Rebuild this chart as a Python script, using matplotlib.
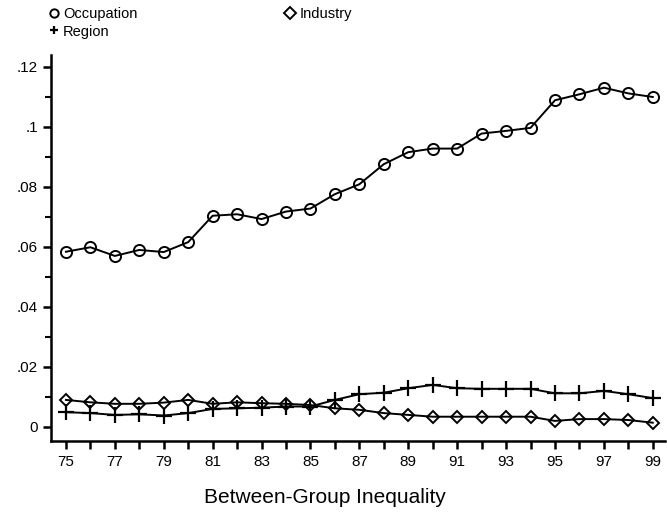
import numpy as np
import matplotlib
matplotlib.use("Agg")
import matplotlib.pyplot as plt

plt.rcParams['font.family'] = ['Liberation Sans', 'DejaVu Sans']

# Between-group inequality by grouping, 1975-1999
years = list(range(75, 100))
occupation = [.0584, .0599, .0570, .0590, .0583, .0616, .0704, .0709, .0693, .0718,
              .0728, .0776, .0809, .0876, .0916, .0928, .0928, .0978, .0987, .0997,
              .1089, .1109, .1131, .1112, .1100]
region = [.0049, .0046, .0040, .0042, .0038, .0046, .0060, .0062, .0064, .0068,
          .0068, .0090, .0109, .0114, .0129, .0140, .0129, .0127, .0127, .0127,
          .0112, .0112, .0120, .0109, .0096]
industry = [.0090, .0082, .0077, .0077, .0081, .0090, .0077, .0082, .0079, .0077,
            .0073, .0062, .0057, .0046, .0040, .0034, .0034, .0034, .0034, .0034,
            .0020, .0026, .0026, .0023, .0014]

fig = plt.figure(figsize=(6.67, 5.18), dpi=100)
ax = fig.add_axes([51/667, 1 - 441/518, 614/667, 386/518])

l1, = ax.plot(years, occupation, color='black', lw=1.4, marker='o', ms=8,
              mfc='none', mec='black', mew=1.4, label='Occupation')
l2, = ax.plot(years, region, color='black', lw=1.4, marker='+', ms=11,
              mew=1.6, label='Region')
l3, = ax.plot(years, industry, color='black', lw=1.4, marker='D', ms=6.5,
              mfc='none', mec='black', mew=1.4, label='Industry')

ax.set_xlim(74.39, 99.5)
ax.set_ylim(-0.0047, 0.124)

ax.set_yticks([0, .02, .04, .06, .08, .1, .12])
ax.set_yticklabels(['0', '.02', '.04', '.06', '.08', '.1', '.12'])
ax.set_yticks([.01, .03, .05, .07, .09, .11], minor=True)
ax.set_xticks(years)
ax.set_xticklabels([str(y) if y % 2 == 1 else '' for y in years])

ax.tick_params(axis='both', which='major', direction='out', length=6, width=1.8,
               labelsize=11, color='black')
ax.tick_params(axis='y', which='minor', direction='out', length=4, width=1.5)
ax.tick_params(axis='x', which='major', pad=4)

for side in ['top', 'right']:
    ax.spines[side].set_visible(False)
for side in ['left', 'bottom']:
    ax.spines[side].set_linewidth(1.8)

leg = fig.legend(handles=[l1, l2, l3], labels=['Occupation', 'Region', 'Industry'],
                 ncol=2, loc='upper left', bbox_to_anchor=(0.055, 1.012), frameon=False,
                 handlelength=0.6, handletextpad=0.3, columnspacing=10.2,
                 labelspacing=0.25, fontsize=10.5)
for line in leg.get_lines():
    line.set_linestyle('none')
    line.set_markersize(6)

fig.text(0.487, 0.028, 'Between-Group Inequality', ha='center', fontsize=15)

fig.savefig('out.png', dpi=100)
